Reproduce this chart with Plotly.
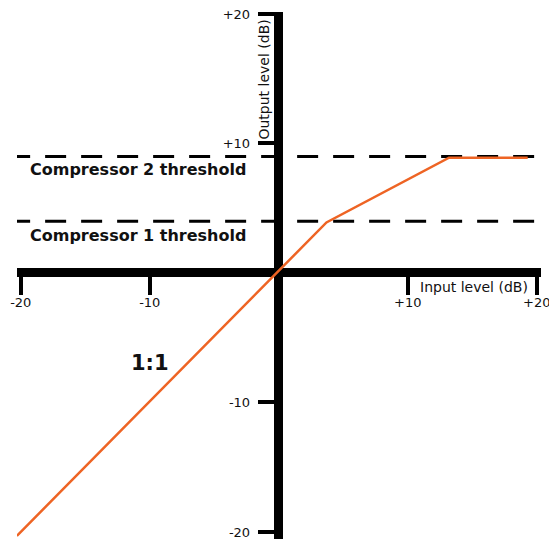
import plotly.graph_objects as go

# ---- data ----
input_db = [-20.3, 3.7, 13.2, 19.3]
output_db = [-20.3, 3.9, 8.9, 8.9]
thresholds = [4.0, 9.0]
threshold_labels = ["Compressor 1 threshold", "Compressor 2 threshold"]
tick_vals = [-20, -10, 10, 20]
tick_text = ["-20", "-10", "+10", "+20"]

X_RANGE = [-20.29, 20.33]
Y_RANGE = [-20.54, 20.15]

fig = go.Figure()

# dashed threshold lines
for t in thresholds:
    fig.add_trace(go.Scatter(
        x=[-20.9, 20.3], y=[t, t], mode="lines",
        line=dict(color="black", width=3, dash="21px,15px"),
        hoverinfo="skip", showlegend=False))

# transfer curve
fig.add_trace(go.Scatter(
    x=input_db, y=output_db, mode="lines",
    line=dict(color="#ee6424", width=2.5),
    hoverinfo="skip", showlegend=False))

font = dict(family="DejaVu Sans, Verdana, sans-serif", size=13, color="#111")
title_font = dict(family="DejaVu Sans, Verdana, sans-serif", size=14, color="#111")

xpos = (0 - Y_RANGE[0]) / (Y_RANGE[1] - Y_RANGE[0])
ypos = (0 - X_RANGE[0]) / (X_RANGE[1] - X_RANGE[0])

fig.update_layout(
    width=549, height=539,
    margin=dict(l=17, r=8, t=12, b=0),
    plot_bgcolor="white", paper_bgcolor="white",
    showlegend=False,
    xaxis=dict(range=X_RANGE, showgrid=False, zeroline=True,
               zerolinecolor="black", zerolinewidth=9,
               anchor="free", position=xpos, automargin=False,
               tickmode="array", tickvals=tick_vals, ticktext=tick_text,
               ticks="outside", ticklen=21, tickwidth=4, tickcolor="black",
               ticklabeloverflow="allow", ticklabelstandoff=-4,
               tickfont=font, showline=False, fixedrange=True),
    yaxis=dict(range=Y_RANGE, showgrid=False, zeroline=True,
               zerolinecolor="black", zerolinewidth=9,
               anchor="free", position=ypos, automargin=False,
               tickmode="array", tickvals=tick_vals, ticktext=tick_text,
               ticks="outside", ticklen=21, tickwidth=4, tickcolor="black",
               ticklabeloverflow="allow", ticklabelstandoff=5,
               tickfont=font, showline=False, fixedrange=True),
)

bold = dict(family="DejaVu Sans, Verdana, sans-serif", size=16, color="#111")
fig.add_annotation(x=-2.4, y=8.0, text="<b>" + threshold_labels[1] + "</b>",
                   xanchor="right", yanchor="middle", showarrow=False, font=bold)
fig.add_annotation(x=-2.4, y=2.93, text="<b>" + threshold_labels[0] + "</b>",
                   xanchor="right", yanchor="middle", showarrow=False, font=bold)
fig.add_annotation(x=-10, y=-6.95, text="<b>1:1</b>", xanchor="center",
                   yanchor="middle", showarrow=False,
                   font=dict(family="DejaVu Sans, Verdana, sans-serif", size=21, color="#111"))
fig.add_annotation(x=15.1, y=-1.12, text="Input level (dB)", xanchor="center",
                   yanchor="middle", showarrow=False, font=title_font)
fig.add_annotation(x=-1.18, y=14.9, text="Output level (dB)", xanchor="center",
                   yanchor="middle", showarrow=False, font=title_font, textangle=-90)

fig.write_html("out.html",
               config={"displayModeBar": False, "staticPlot": True},
               post_script="document.body.style.margin='0';document.body.style.overflow='hidden';")
